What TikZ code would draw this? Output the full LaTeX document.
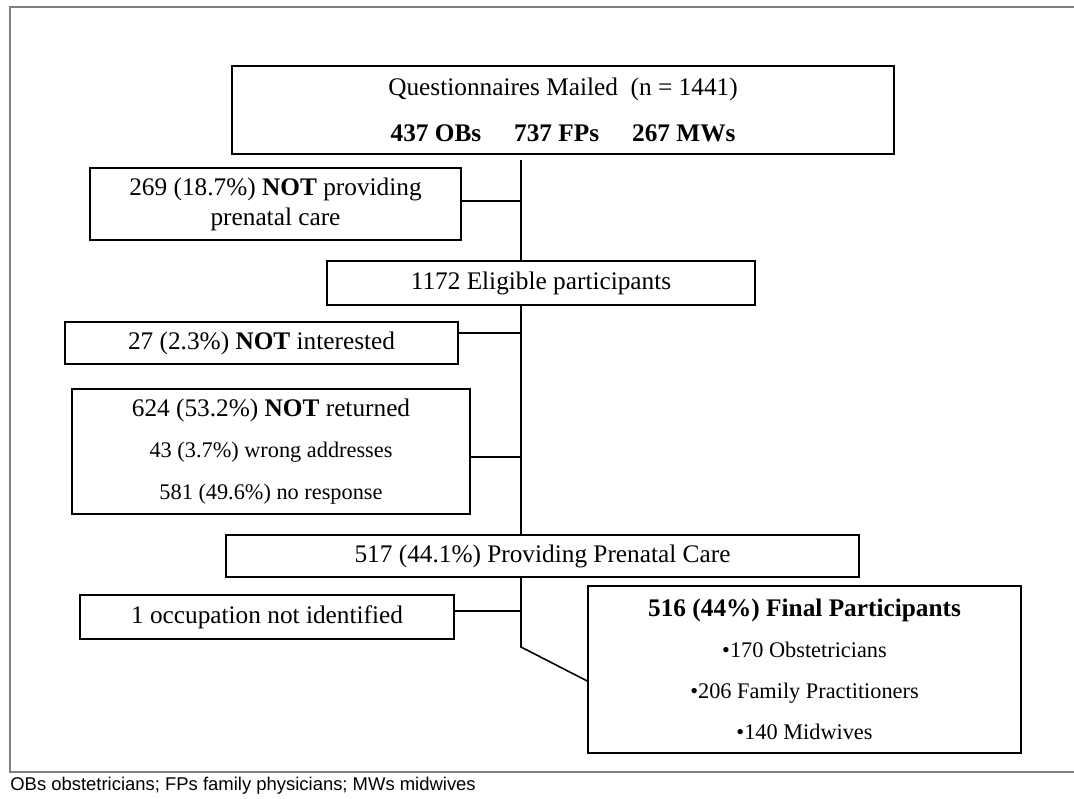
\documentclass[tikz,border=0pt]{standalone}
\usepackage{fontspec}
\setmainfont{Liberation Serif}
\newfontfamily\notefont{Liberation Sans}
\newcommand\subsz{\fontsize{12.7}{15}\selectfont}
\tikzset{
	box/.style={draw=black,line width=0.9pt,fill=white,align=center,inner sep=0pt,font=\fontsize{14.4}{17}\selectfont},
	link/.style={line width=0.9pt}
}
\begin{document}
\begin{tikzpicture}[x=0.02cm,y=-0.02cm]
		\useasboundingbox (0,0) rectangle (1074,798);
		\draw[color=gray,line width=1.1pt] (1074,7)--(10,7)--(10,772)--(1074,772);
		\node[box,minimum width=13.24cm,minimum height=1.76cm,font=\fontsize{14.4}{26.2}\selectfont] (mailed) at (563,110) {Questionnaires Mailed\ \ (n = 1441)\\ \textbf{437 OBs\hspace{1.3em}737 FPs\hspace{1.3em}267 MWs}};
		\node[box,minimum width=7.42cm,minimum height=1.44cm] (prenatal) at (275.5,204) {269 (18.7\%) \textbf{NOT} providing\\ prenatal care};
		\node[box,minimum width=8.56cm,minimum height=0.88cm] (eligible) at (541,283) {1172 Eligible participants};
		\node[box,minimum width=7.86cm,minimum height=0.84cm] (notint) at (261.5,343) {27 (2.3\%) \textbf{NOT} interested};
		\node[box,minimum width=7.96cm,minimum height=2.5cm,font=\fontsize{14.4}{23.8}\selectfont] (notret) at (271,451.5) {624 (53.2\%) \textbf{NOT} returned\\ {\subsz 43 (3.7\%) wrong addresses}\\ {\subsz 581 (49.6\%) no response}};
		\node[box,minimum width=12.66cm,minimum height=0.84cm] (provide) at (542.5,556) {517 (44.1\%) Providing Prenatal Care};
		\node[box,minimum width=7.48cm,minimum height=0.88cm] (unident) at (267,617) {1 occupation not identified};
		\node[box,minimum width=8.66cm,minimum height=3.34cm,font=\fontsize{14.4}{23.3}\selectfont] (final) at (804.5,669.5) {\textbf{516 (44\%) Final Participants}\\ {\subsz\textbullet170 Obstetricians}\\ {\subsz\textbullet206 Family Practitioners}\\ {\subsz\textbullet140 Midwives}};
		\node[anchor=west,inner sep=0pt,font=\notefont\fontsize{10.5}{13}\selectfont] (note) at (10,786) {OBs obstetricians; FPs family physicians; MWs midwives};
		% main line
		\coordinate (spine) at (521,160);
		\coordinate (bend) at (521,647);
		\draw[link] (spine)--(spine |- eligible.north);
		\draw[link] (eligible.south -| spine)--(spine |- provide.north);
		\draw[link] (provide.south -| spine)--(bend)--([yshift=-0.23cm]final.west);
		% side branches
		\draw[link] ([yshift=0.06cm]prenatal.east)--([yshift=0.06cm]prenatal.east -| spine);
		\draw[link] ([yshift=0.2cm]notint.east)--([yshift=0.2cm]notint.east -| spine);
		\draw[link] ([yshift=-0.11cm]notret.east)--([yshift=-0.11cm]notret.east -| spine);
		\draw[link] ([yshift=0.12cm]unident.east)--([yshift=0.12cm]unident.east -| spine);
	\end{tikzpicture}
\end{document}
